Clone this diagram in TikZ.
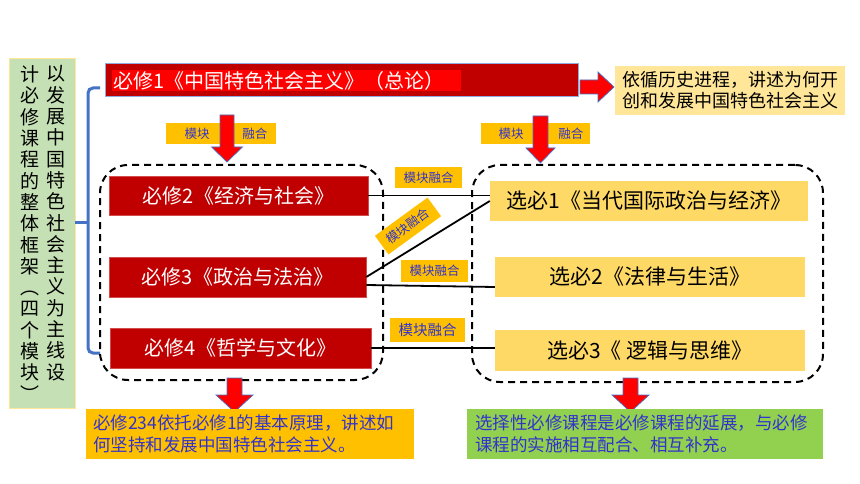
\documentclass[tikz,border=0pt]{standalone}
\usepackage{fontspec}
\setmainfont{Noto Sans CJK SC}
\usetikzlibrary{calc}
\definecolor{dred}{HTML}{C00000}
\definecolor{bred}{HTML}{FF0000}
\definecolor{ygold}{HTML}{FFD966}
\definecolor{ylight}{HTML}{FFE699}
\definecolor{orng}{HTML}{FFC000}
\definecolor{lgreen}{HTML}{92D050}
\definecolor{pgreen}{HTML}{C5E0B4}
\definecolor{bblue}{HTML}{4472C4}
\definecolor{tblue}{HTML}{3333CC}
\newcommand{\fsz}[2]{\fontsize{#1}{#2}\selectfont}
\begin{document}
\begin{tikzpicture}[x=1pt,y=-1pt,
  redbox/.style={fill=dred, draw=dred!70!white, line width=0.6pt, text=white, inner sep=0, font=\fsz{20}{24}},
  selbox/.style={fill=ygold, draw=none, text=black, inner sep=0, font=\fsz{21}{25}},
  tag/.style={fill=orng, draw=none, text=tblue, inner sep=0, font=\fsz{12.5}{15}},
  group/.style={draw=black, line width=2pt, dash pattern=on 7pt off 5pt, rounded corners=28pt, inner sep=0},
  link/.style={draw=black, line width=1.8pt},
  blockarrow/.style={fill=bred, draw=bblue, line width=0.7pt, line join=miter},
  brace/.style={draw=bblue, line width=3pt, rounded corners=5pt},
]
\useasboundingbox (0,0) rectangle (860,484);
\fill[white] (0,0) rectangle (860,484);

% left green vertical title
\node[fill=pgreen, draw=ylight, line width=0.6pt, minimum width=66, minimum height=350, inner sep=0] (g) at (42,233) {};
\node[anchor=north, inner sep=0, align=center, font=\fsz{19}{21.3}] (vr) at (56,65.5)
  {以\\发\\展\\中\\国\\特\\色\\社\\会\\主\\义\\为\\主\\线\\设};
\node[anchor=north, inner sep=0, align=center, font=\fsz{19}{21.3}] (vl) at (30,65.5)
  {计\\必\\修\\课\\程\\的\\整\\体\\框\\架\\︵\\四\\个\\模\\块\\︶};

% brace
\draw[brace] (100,88) -- (88,88) -- (88,353) -- (100,353);
\draw[brace] (g.east |- 0,222) -- (88,222);

% dashed groups
\node[group, minimum width=283, minimum height=215] (gL) at (241.5,272.5) {};
\node[group, minimum width=351, minimum height=217] (gR) at (647.5,273.5) {};

% top box
\node[fill=dred, draw=bblue!60!white, line width=1pt, minimum width=473, minimum height=33, inner sep=0] (b1) at (341.5,80.5) {};
\fill[bred] (112,70) rectangle (461,91);
\node[anchor=west, inner sep=0, text=white, font=\fsz{20}{24}] (b1t) at (113,80.5) {必修1《中国特色社会主义》（总论）};

% note right of top box
\node[fill=ylight, minimum width=230, minimum height=49, inner xsep=7, inner ysep=0, align=left, font=\fsz{18}{21}, text width=216] (n1) at (730,90.5)
  {依循历史进程，讲述为何开\\创和发展中国特色社会主义};

% required modules
\node[redbox, minimum width=259, minimum height=39] (b2) at (238.5,195.5) {必修2《经济与社会》};
\node[redbox, minimum width=257, minimum height=40] (b3) at (237.5,277) {必修3《政治与法治》};
\node[redbox, minimum width=261, minimum height=40] (b4) at (240.5,348) {必修4《哲学与文化》};

% elective modules
\node[selbox, minimum width=318, minimum height=40] (x1) at (649,201) {选必1《当代国际政治与经济》};
\node[selbox, minimum width=310, minimum height=40] (x2) at (650,277) {选必2《法律与生活》};
\node[selbox, minimum width=310, minimum height=41] (x3) at (650,350.5) {选必3《 逻辑与思维》};

% links
\draw[link] (b2.east) -- (b2.east -| x1.west);
\draw[link] (b3.east) -- (x1.west);
\draw[link] ($(b3.east)+(0,8)$) -- ($(x2.west)+(0,10)$);
\draw[link] (b4.east) -- (b4.east -| x3.west);

% link tags
\node[tag, minimum width=67, minimum height=21] (lA) at (428.5,177.5) {模块融合};
\node[tag, minimum width=65, minimum height=23, rotate=36] (lB) at (408,226) {模块融合};
\node[tag, minimum width=67, minimum height=22] (lC) at (434.5,271) {模块融合};
\node[tag, minimum width=75, minimum height=24, font=\fsz{14.5}{17}] (lD) at (427.5,330) {模块融合};

% top tags with arrows
\node[tag, minimum width=110, minimum height=21] (tL) at (221,133.5) {\hspace*{10pt}模块\hspace{33pt}融合};
\node[tag, minimum width=109, minimum height=21] (tR) at (535.5,133.5) {\hspace*{11pt}模块\hspace{35pt}融合};

% block arrows
\draw[blockarrow] (220,115) -- (234,115) -- (234,147) -- (242.5,147) -- (227,162) -- (211.5,147) -- (220,147) -- cycle;
\draw[blockarrow] (533,116) -- (548,116) -- (548,148) -- (555,148) -- (540.5,163) -- (526,148) -- (533,148) -- cycle;
\draw[blockarrow] (580,80) -- (598,80) -- (598,72) -- (614,87) -- (598,102) -- (598,94) -- (580,94) -- cycle;
\draw[blockarrow] (227,378) -- (242,378) -- (242,395) -- (253,395) -- (234.5,412) -- (216,395) -- (227,395) -- cycle;
\draw[blockarrow] (623,378) -- (638,378) -- (638,395) -- (649,395) -- (630.5,412) -- (612,395) -- (623,395) -- cycle;

% bottom notes
\node[fill=orng, minimum height=50, inner xsep=7, inner ysep=0, text width=314, align=left, text=tblue, font=\fsz{17.5}{22}] (nL) at (250,434)
  {必修234依托必修1的基本原理，讲述如\\何坚持和发展中国特色社会主义。};
\node[fill=lgreen, minimum height=50, inner xsep=8, inner ysep=0, text width=340, align=left, text=tblue, font=\fsz{17.5}{22}] (nR) at (645,434)
  {选择性必修课程是必修课程的延展，与必修\\课程的实施相互配合、相互补充。};
\end{tikzpicture}
\end{document}
